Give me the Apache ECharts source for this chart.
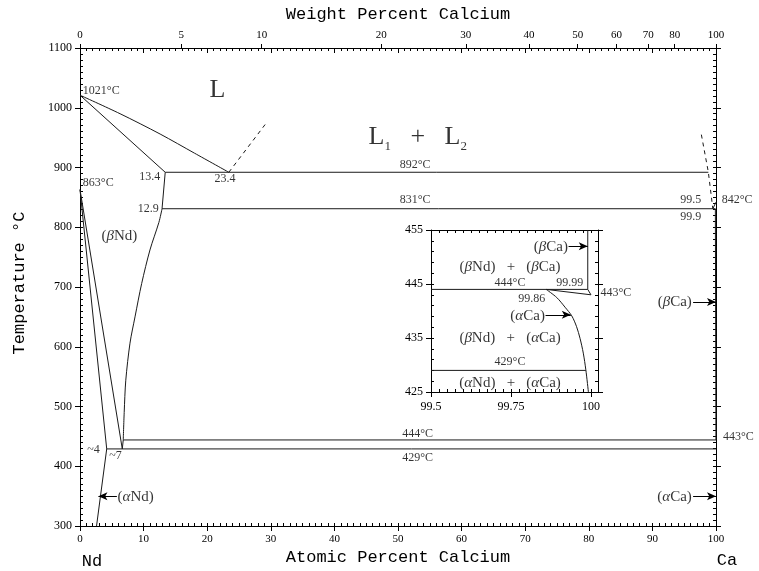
<!DOCTYPE html>
<html>
<head>
<meta charset="utf-8">
<script src="https://cdn.jsdelivr.net/npm/echarts@6/dist/echarts.min.js"></script>
<style>
html, body { margin: 0; padding: 0; background: #fff; }
#chart { width: 759px; height: 571px; }
</style>
</head>
<body>
<div id="chart"></div>
<script>
// Nd–Ca binary phase diagram (atomic % Ca vs. temperature) with an enlarged Ca-rich corner.

// ---- axis ticks ----
const atomicTicksMain = [0, 10, 20, 30, 40, 50, 60, 70, 80, 90, 100];
const weightTicks = [0, 5, 10, 20, 30, 40, 50, 60, 70, 80, 100];
const tempTicksMain = [300, 400, 500, 600, 700, 800, 900, 1000, 1100];
const insetCompTicks = [99.5, 99.75, 100];
const insetTempTicks = [425, 435, 445, 455];

// ---- main diagram boundaries [at.% Ca, °C] ----
const ndLiquidus = [[0, 1021], [6.3, 990], [12.6, 956], [18, 924], [23.4, 892]];
const betaNdSolidus = [[0, 1021], [13.4, 892]];
const l1Metastable = [[23.4, 892], [29.4, 976]];
const caLiquidusDashed = [[97.7, 955], [98.8, 892], [99.5, 831]];
const caLiquidus = [[99.5, 831], [100, 842]];
const monotectic892 = [[13.4, 892], [98.8, 892]];
const eutectic831 = [[12.9, 831], [99.9, 831]];
const betaNdSolvusUpper = [[13.4, 892], [12.9, 831]];
const betaNdSolvus = [[12.9, 831], [12.4, 808], [11.0, 762], [9.7, 706], [8.65, 650],
  [7.86, 606], [7.2, 544], [6.95, 490], [6.8, 444]];
const betaNdEutectoid = [[6.8, 444], [6.65, 429]];
const alphaNdSolvus = [[0, 863], [4.2, 429], [2.6, 300]];
const betaNdTransus = [[0, 863], [6.65, 429]];
const line444 = [[6.8, 444], [100, 444]];
const line429 = [[4.2, 429], [100, 429]];
const betaCaSolvus = [[99.9, 831], [99.99, 444], [100, 443]];

// ---- enlarged Ca-rich corner [at.% Ca, °C] ----
const insetLine444 = [[99.5, 444], [99.99, 444]];
const insetBetaCa = [[99.99, 444], [99.99, 455]];
const insetUpper443 = [[99.99, 444], [100, 443]];
const insetLower443 = [[99.86, 444], [100, 443]];
const insetAlphaCa = [[99.86, 444], [99.893, 442.5], [99.919, 440.7], [99.94, 439.1], [99.955, 437.1],
  [99.966, 434.9], [99.976, 432.2], [99.984, 429.1], [99.992, 425]];
const insetLine429 = [[99.5, 429], [99.984, 429]];

// ---- pointer arrows: [from, to] ----
const mainArrows = [
  [[5.8, 350], [2.9, 350]],
  [[96.4, 350], [100, 350]],
  [[96.4, 675], [100, 675]]
];
const insetArrows = [
  [[99.93, 452], [99.99, 452]],
  [[99.858, 439.3], [99.937, 439.3]]
];

// ---- annotations: [x, y, text, align, style] ----
const mainNotes = [
  [21.6, 1030, 'L', 'center', 'big'],
  [53.1, 950, '{big|L}{sub|1}{big|   +   L}{sub|2}', 'center', 'big'],
  [0.45, 1029, '1021°C', 'left', 'num'],
  [0.45, 874, '863°C', 'left', 'num'],
  [12.6, 884, '13.4', 'right', 'num'],
  [22.8, 881, '23.4', 'center', 'num'],
  [52.7, 904, '892°C', 'center', 'num'],
  [52.7, 846, '831°C', 'center', 'num'],
  [12.4, 831, '12.9', 'right', 'num'],
  [6.2, 786, '({g|β}Nd)', 'center', 'phase'],
  [97.7, 846, '99.5', 'right', 'num'],
  [97.7, 818, '99.9', 'right', 'num'],
  [100.9, 846, '842°C', 'left', 'num'],
  [3.1, 428, '~4', 'right', 'num'],
  [5.6, 417, '~7', 'center', 'num'],
  [53.1, 454, '444°C', 'center', 'num'],
  [53.1, 414, '429°C', 'center', 'num'],
  [101.1, 449, '443°C', 'left', 'num'],
  [5.9, 349, '({g|α}Nd)', 'left', 'phase'],
  [96.2, 349, '({g|α}Ca)', 'right', 'phase'],
  [96.2, 675, '({g|β}Ca)', 'right', 'phase']
];
const insetNotes = [
  [99.928, 451.8, '({g|β}Ca)', 'right', 'phase'],
  [99.747, 448.1, '({g|β}Nd)   +   ({g|β}Ca)', 'center', 'phase'],
  [99.747, 445.2, '444°C', 'center', 'num'],
  [99.934, 445.3, '99.99', 'center', 'num'],
  [100.03, 443.3, '443°C', 'left', 'num'],
  [99.815, 442.2, '99.86', 'center', 'num'],
  [99.856, 439.1, '({g|α}Ca)', 'right', 'phase'],
  [99.747, 434.9, '({g|β}Nd)   +   ({g|α}Ca)', 'center', 'phase'],
  [99.747, 430.5, '429°C', 'center', 'num'],
  [99.747, 426.6, '({g|α}Nd)   +   ({g|α}Ca)', 'center', 'phase']
];

// weight % Ca -> atomic % Ca, for the top axis
const MASS_ND = 144.24, MASS_CA = 40.08;
function weightToAtomic(w) {
  const ca = w / MASS_CA, nd = (100 - w) / MASS_ND;
  return 100 * ca / (ca + nd);
}
const weightPositions = weightTicks.map(weightToAtomic);

const SERIF = '"Liberation Serif", "DejaVu Serif", serif';
const MONO = '"Liberation Mono", "DejaVu Sans Mono", monospace';
const INK = '#000';
const LINE = '#1a1a1a';

const noteStyles = {
  num: { fontFamily: SERIF, fontSize: 12 },
  phase: { fontFamily: SERIF, fontSize: 15 },
  big: { fontFamily: SERIF, fontSize: 26 }
};
const rich = {
  g: { fontFamily: SERIF, fontSize: 15, fontStyle: 'italic', color: INK },
  big: { fontFamily: SERIF, fontSize: 26, lineHeight: 30, color: INK },
  sub: { fontFamily: SERIF, fontSize: 13, lineHeight: 30, verticalAlign: 'bottom', color: INK }
};

function curve(data, xi, yi, dashed, extra) {
  return Object.assign({
    type: 'line', xAxisIndex: xi, yAxisIndex: yi, data: data,
    showSymbol: false, symbol: 'none', silent: true, animation: false,
    lineStyle: { color: LINE, width: 1, type: dashed ? [4, 4] : 'solid' }
  }, extra || {});
}
function arrows(list, xi, yi) {
  return curve([], xi, yi, false, {
    markLine: {
      silent: true, animation: false,
      symbol: ['none', 'arrow'], symbolSize: [6, 9],
      label: { show: false },
      lineStyle: { color: INK, width: 1, type: 'solid' },
      data: list.map(a => [{ coord: a[0] }, { coord: a[1] }])
    }
  });
}
function notes(list, xi, yi) {
  return {
    type: 'scatter', xAxisIndex: xi, yAxisIndex: yi, clip: false, silent: true, animation: false,
    symbol: 'circle', symbolSize: 1, itemStyle: { color: 'rgba(0,0,0,0)' }, z: 5,
    label: { show: true, position: 'inside', verticalAlign: 'middle', color: INK, formatter: p => p.name, rich: rich },
    data: list.map(n => ({ name: n[2], value: [n[0], n[1]], label: Object.assign({ align: n[3] }, noteStyles[n[4]]) }))
  };
}

// axis helpers: a labelled/major-tick axis, and a twin that only carries the fine ticks
function majorAxis(grid, pos, min, max, interval, inside, extra) {
  return Object.assign({
    gridIndex: grid, type: 'value', position: pos, min: min, max: max, interval: interval,
    axisLine: { show: true, onZero: false, lineStyle: { color: INK, width: 1 } },
    axisTick: { show: true, inside: inside, length: 5, lineStyle: { color: INK, width: 1 } },
    axisLabel: { show: false },
    splitLine: { show: false }
  }, extra || {});
}
function fineAxis(grid, pos, min, max, step) {
  return {
    gridIndex: grid, type: 'value', position: pos, min: min, max: max, interval: step,
    axisLine: { show: false, onZero: false },
    axisTick: { show: true, inside: true, length: 3, lineStyle: { color: INK, width: 1 } },
    axisLabel: { show: false },
    splitLine: { show: false }
  };
}

const tickFont = { color: INK, fontFamily: SERIF };
const plain = v => String(Math.round(v * 100) / 100);

const option = {
  backgroundColor: '#fff',
  animation: false,
  grid: [
    { left: 80, top: 48, width: 636, height: 478, containLabel: false, outerBoundsMode: 'none' },
    { left: 431, top: 230, width: 167, height: 162, containLabel: false, outerBoundsMode: 'none',
      show: true, backgroundColor: '#fff', borderWidth: 0 }
  ],
  xAxis: [
    majorAxis(0, 'bottom', atomicTicksMain[0], atomicTicksMain[atomicTicksMain.length - 1], 10, false, {
      axisLabel: Object.assign({ show: true, margin: 8, fontSize: 11, formatter: plain }, tickFont)
    }),
    fineAxis(0, 'bottom', 0, 100, 1),
    majorAxis(0, 'top', 0, 100, 10, true),
    fineAxis(0, 'top', 0, 100, 1),
    majorAxis(0, 'top', 0, 100, null, false, {
      axisLine: { show: false, onZero: false },
      axisTick: { show: true, inside: false, length: 4, customValues: weightPositions, lineStyle: { color: INK } },
      axisLabel: Object.assign({
        show: true, margin: 7, fontSize: 11, customValues: weightPositions,
        formatter: v => {
          let best = 0;
          weightPositions.forEach((p, i) => { if (Math.abs(p - v) < Math.abs(weightPositions[best] - v)) best = i; });
          return String(weightTicks[best]);
        }
      }, tickFont)
    }),
    majorAxis(1, 'bottom', insetCompTicks[0], 100.022, 0.25, false, {
      axisLabel: Object.assign({ show: true, margin: 9, fontSize: 12, showMaxLabel: false,
        formatter: v => insetCompTicks.indexOf(Math.round(v * 100) / 100) >= 0 ? plain(v) : '' }, tickFont)
    }),
    fineAxis(1, 'bottom', 99.5, 100.022, 0.025),
    majorAxis(1, 'top', 99.5, 100.022, 0.25, true, { axisTick: { show: false } }),
    fineAxis(1, 'top', 99.5, 100.022, 0.025)
  ],
  yAxis: [
    majorAxis(0, 'left', tempTicksMain[0], tempTicksMain[tempTicksMain.length - 1], 100, false, {
      axisLabel: Object.assign({ show: true, margin: 8, fontSize: 12, formatter: plain }, tickFont)
    }),
    fineAxis(0, 'left', 300, 1100, 10),
    majorAxis(0, 'right', 300, 1100, 100, false),
    fineAxis(0, 'right', 300, 1100, 10),
    majorAxis(1, 'left', insetTempTicks[0], insetTempTicks[insetTempTicks.length - 1], 10, false, {
      axisLabel: Object.assign({ show: true, margin: 8, fontSize: 12, formatter: plain }, tickFont)
    }),
    fineAxis(1, 'left', 425, 455, 2),
    majorAxis(1, 'right', 425, 455, 10, false),
    fineAxis(1, 'right', 425, 455, 2)
  ],
  series: [
    curve(ndLiquidus, 0, 0, false, { smooth: 0.3 }),
    curve(betaNdSolidus, 0, 0),
    curve(l1Metastable, 0, 0, true),
    curve(caLiquidusDashed, 0, 0, true),
    curve(caLiquidus, 0, 0),
    curve(monotectic892, 0, 0),
    curve(eutectic831, 0, 0),
    curve(betaNdSolvusUpper, 0, 0),
    curve(betaNdSolvus, 0, 0, false, { smooth: 0.3 }),
    curve(betaNdEutectoid, 0, 0),
    curve(alphaNdSolvus, 0, 0),
    curve(betaNdTransus, 0, 0),
    curve(line444, 0, 0),
    curve(line429, 0, 0),
    curve(betaCaSolvus, 0, 0),
    arrows(mainArrows, 0, 0),
    notes(mainNotes, 0, 0),

    curve(insetLine444, 5, 4),
    curve(insetBetaCa, 5, 4),
    curve(insetUpper443, 5, 4),
    curve(insetLower443, 5, 4),
    curve(insetAlphaCa, 5, 4, false, { smooth: 0.3 }),
    curve(insetLine429, 5, 4),
    arrows(insetArrows, 5, 4),
    notes(insetNotes, 5, 4)
  ],
  graphic: [
    { type: 'text', x: 398, y: 14, silent: true,
      style: { text: 'Weight Percent Calcium', font: '17px ' + MONO, fill: INK, align: 'center', verticalAlign: 'middle' } },
    { type: 'text', x: 398, y: 557, silent: true,
      style: { text: 'Atomic Percent Calcium', font: '17px ' + MONO, fill: INK, align: 'center', verticalAlign: 'middle' } },
    { type: 'text', x: 19, y: 283, rotation: Math.PI / 2, silent: true,
      style: { text: 'Temperature °C', font: '17px ' + MONO, fill: INK, align: 'center', verticalAlign: 'middle' } },
    { type: 'text', x: 92, y: 561, silent: true,
      style: { text: 'Nd', font: '17px ' + MONO, fill: INK, align: 'center', verticalAlign: 'middle' } },
    { type: 'text', x: 727, y: 560, silent: true,
      style: { text: 'Ca', font: '17px ' + MONO, fill: INK, align: 'center', verticalAlign: 'middle' } }
  ]
};

const chart = echarts.init(document.getElementById('chart'), null, { renderer: 'canvas' });
chart.setOption(option);
</script>
</body>
</html>
